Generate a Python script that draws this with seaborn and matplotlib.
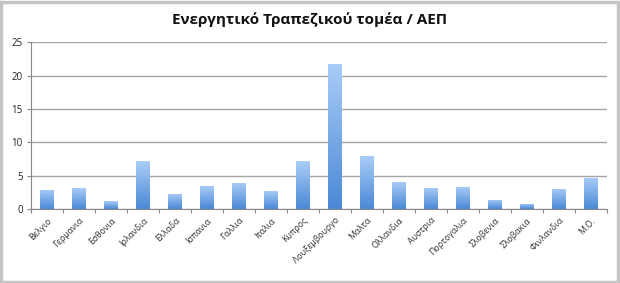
import numpy as np
import pandas as pd
import matplotlib
matplotlib.use("Agg")
import matplotlib.pyplot as plt
import seaborn as sns
from matplotlib.patches import Rectangle

categories = ["Βελγιο", "Γερμανια", "Εσθονια", "Ιρλανδια", "Ελλαδα", "Ισπανια",
              "Γαλλια", "Ιταλια", "Κυπρος", "Λουξεμβουργο", "Μαλτα", "Ολλανδια",
              "Αυστρια", "Πορτογαλια", "Σλοβενια", "Σλοβακια", "Φινλανδια", "Μ.Ο."]
values = [2.85, 3.1, 1.15, 7.15, 2.25, 3.45, 3.95, 2.7, 7.15, 21.75,
          7.9, 4.1, 3.15, 3.35, 1.4, 0.8, 3.05, 4.7]
yticks = [0, 5, 10, 15, 20, 25]
title = "Ενεργητικό Τραπεζικού τομέα / ΑΕΠ"

sns.set_theme(style="white")
plt.rcParams['font.family'] = ['Open Sans', 'DejaVu Sans']

df = pd.DataFrame({"cat": categories, "val": values})

fig = plt.figure(figsize=(6.2, 2.83), dpi=100)
ax = fig.add_axes([31/620, 1-209/283, (607-31)/620, (209-42.3)/283])

sns.barplot(data=df, x="cat", y="val", ax=ax, color="#5b9be0", width=0.42,
            saturation=1, errorbar=None)

# gradient fill on each bar
from matplotlib.colors import LinearSegmentedColormap
cmap = LinearSegmentedColormap.from_list("g", ["#4a88d6", "#aacdf8"])
grad = np.linspace(0, 1, 256).reshape(-1, 1)
for p in ax.patches:
    x0, y0 = p.get_x(), p.get_y()
    w, h = p.get_width(), p.get_height()
    p.set_facecolor("none")
    p.set_edgecolor("none")
    im = ax.imshow(grad, cmap=cmap, origin="lower", aspect="auto",
                   extent=[x0, x0 + w, y0, y0 + h], zorder=2)
    im.set_clip_path(p)

ax.set_xlim(-0.5, len(categories) - 0.5)
ax.set_ylim(0, 25)
ax.set_yticks(yticks)
ax.set_yticklabels([str(t) for t in yticks], fontsize=7, color="#222222")
ax.yaxis.grid(True, color="#a6a6a6", linewidth=1)
ax.set_axisbelow(True)

ax.set_xticks(range(len(categories)))
ax.set_xticklabels(categories, rotation=45, ha="right", rotation_mode="anchor",
                   fontsize=6.3, color="#333333")
ax.tick_params(axis="x", length=0, pad=5)
ax.tick_params(axis="y", length=3, width=0.8, color="#888888", pad=3, direction="out", left=True)
# tick marks between categories
ax.set_xticks(np.arange(-0.5, len(categories), 1), minor=True)
ax.tick_params(axis="x", which="minor", length=3, width=0.8, color="#888888", bottom=True, direction="out")

for s in ["top", "right"]:
    ax.spines[s].set_visible(False)
for s in ["left", "bottom"]:
    ax.spines[s].set_color("#888888")
    ax.spines[s].set_linewidth(0.8)
ax.set_xlabel("")
ax.set_ylabel("")

fig.text(0.5, 1 - 20/283, title, ha="center", va="center", fontsize=11,
         fontweight="bold", color="#111111")

# outer frame
fig.patches.append(Rectangle((0.002, 0.004), 0.994, 0.99, transform=fig.transFigure,
                             fill=False, edgecolor="#c4c4c4", linewidth=2.5))

fig.savefig("out.png", dpi=100)
